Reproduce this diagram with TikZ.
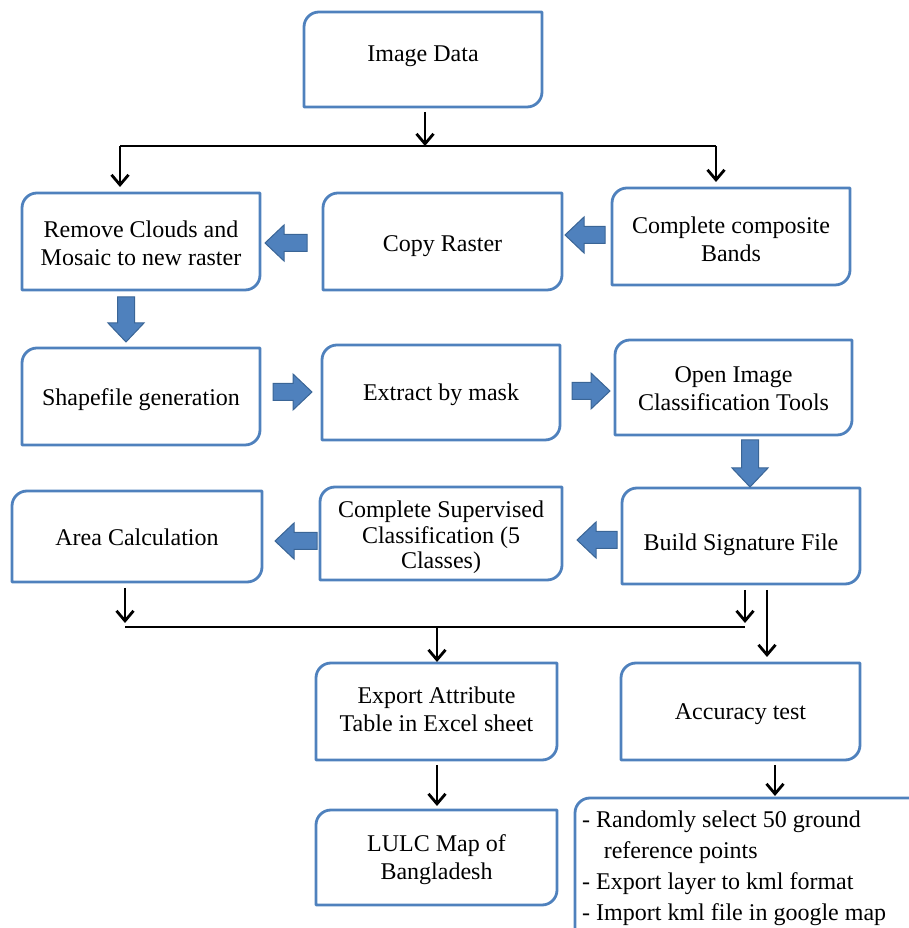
\documentclass[tikz,border=0pt]{standalone}
\usepackage{fontspec}
\setmainfont{Liberation Serif}
\usetikzlibrary{calc,arrows.meta}
\definecolor{boxblue}{HTML}{4F81BD}
\definecolor{arrowfill}{HTML}{4F81BD}
\definecolor{arrowedge}{HTML}{3A6596}
\newcommand\boxoutline[1]{%
  \draw[boxline] (#1.south west) -- ($(#1.north west)+(0,-15)$) arc[start angle=180,end angle=90,radius=15]
    -- (#1.north east) -- ($(#1.south east)+(0,15)$) arc[start angle=0,end angle=-90,radius=15] -- cycle;}
% name, cx, cy, width, height, text shift, text
\newcommand\bx[7]{%
  \node[boxshape, minimum width=#4, minimum height=#5] (#1) at (#2,#3) {};
  \node[boxtext] (#1t) at ($(#1.center)+(0,#6)$) {#7};
  \boxoutline{#1}}
\tikzset{
  boxshape/.style={draw=none, inner sep=0pt, outer sep=0pt},
  boxtext/.style={align=center, inner sep=0pt, font=\fontsize{24}{28}\selectfont},
  boxline/.style={draw=boxblue, line width=2.8pt, line join=round},
  conn/.style={draw=black, line width=2.8pt},
  arr/.style={conn, -{Straight Barb[length=10pt,width=17pt]}},
  blockfill/.style={fill=arrowfill, draw=arrowedge, line width=1pt, line join=miter},
  blk/.pic={\path[blockfill] (0,0) -- (-19,18) -- (-19,8.5) -- (-#1,8.5) -- (-#1,-8.5) -- (-19,-8.5) -- (-19,-18) -- cycle;},
}
\begin{document}
\begin{tikzpicture}[x=1pt,y=1pt]
\useasboundingbox (0,0) rectangle (909,928);
% boxes
\bx{img}{423}{868.5}{238}{95}{3.5}{Image Data}
\bx{rc}{141}{686.5}{238}{97}{-2}{Remove Clouds and\\Mosaic to new raster}
\bx{cr}{442.5}{686.5}{239}{97}{-5}{Copy Raster}
\bx{cc}{731}{691.5}{238}{97}{-3}{Complete composite\\Bands}
\bx{sg}{141}{531.5}{238}{97}{-3}{Shapefile generation}
\bx{em}{441}{535.5}{238}{95}{-2}{Extract by mask}
\bx{oi}{733.5}{540.5}{237}{95}{-1}{Open Image\\Classification Tools}
\bx{ac}{137}{391.5}{250}{91}{-1}{Area Calculation}
\node[boxshape, minimum width=242, minimum height=93] (cs) at (441,394.5) {};
\node[boxtext, font=\fontsize{24}{25.5}\selectfont] (cst) at ($(cs.center)+(0,-4)$) {Complete Supervised\\Classification (5\\Classes)};
\boxoutline{cs}
\bx{bs}{741}{392}{238}{96}{-9}{Build Signature File}
\bx{ea}{436.5}{216.5}{241}{97}{2}{Export Attribute\\Table in Excel sheet}
\bx{at}{740.5}{216.5}{239}{97}{-3}{Accuracy test}
\bx{lu}{436.5}{70.5}{241}{95}{-2}{LULC Map of\\Bangladesh}
\node[boxshape, minimum width=360, minimum height=150, anchor=north west] (rp) at (575,130) {};
\boxoutline{rp}
\node[boxtext, align=left, anchor=north west, font=\fontsize{24}{31}\selectfont] (rpt) at (582,117)
  {- Randomly select 50 ground\\\hspace*{0.9em}reference points\\- Export layer to kml format\\- Import kml file in google map};
% block arrows
\pic[rotate=180] at (565,693) {blk=40};
\pic[rotate=180] at (265,685) {blk=42};
\pic[rotate=-90] at (126,586) {blk=45};
\pic at (312,536) {blk=39};
\pic at (610,537) {blk=38};
\pic[rotate=-90] at (750,441) {blk=47};
\pic[rotate=180] at (577,388) {blk=40};
\pic[rotate=180] at (275,387) {blk=42};
% top connectors
\coordinate (j1) at (425,782);
\coordinate (jL) at (120,782);
\coordinate (jR) at (716,782);
\draw[arr, shorten <=5pt] (img.south -| j1) -- (j1);
\draw[conn] (jL) -- (jR);
\draw[arr, shorten >=6pt] (jL) -- (jL |- rc.north);
\draw[arr, shorten >=6pt] (jR) -- (jR |- cc.north);
% lower connectors
\coordinate (k1) at (125,301);
\coordinate (k2) at (745,301);
\coordinate (k3) at (437,301);
\coordinate (k4) at (767,301);
\draw[arr, shorten <=6pt, shorten >=4pt] (k1 |- ac.south) -- (k1);
\draw[arr, shorten <=6pt, shorten >=4pt] (k2 |- bs.south) -- (k2);
\draw[conn] (k1) -- (k2);
\draw[arr, shorten >=1pt] (k3) -- (k3 |- ea.north);
\draw[arr, shorten <=6pt, shorten >=6pt] (k4 |- bs.south) -- (k4 |- at.north);
\coordinate (m1) at (437,0);
\coordinate (m2) at (775,0);
\draw[arr, shorten <=5pt, shorten >=4pt] (m1 |- ea.south) -- (m1 |- lu.north);
\draw[arr, shorten <=5pt, shorten >=2pt] (m2 |- at.south) -- (m2 |- rp.north);
\end{tikzpicture}
\end{document}
